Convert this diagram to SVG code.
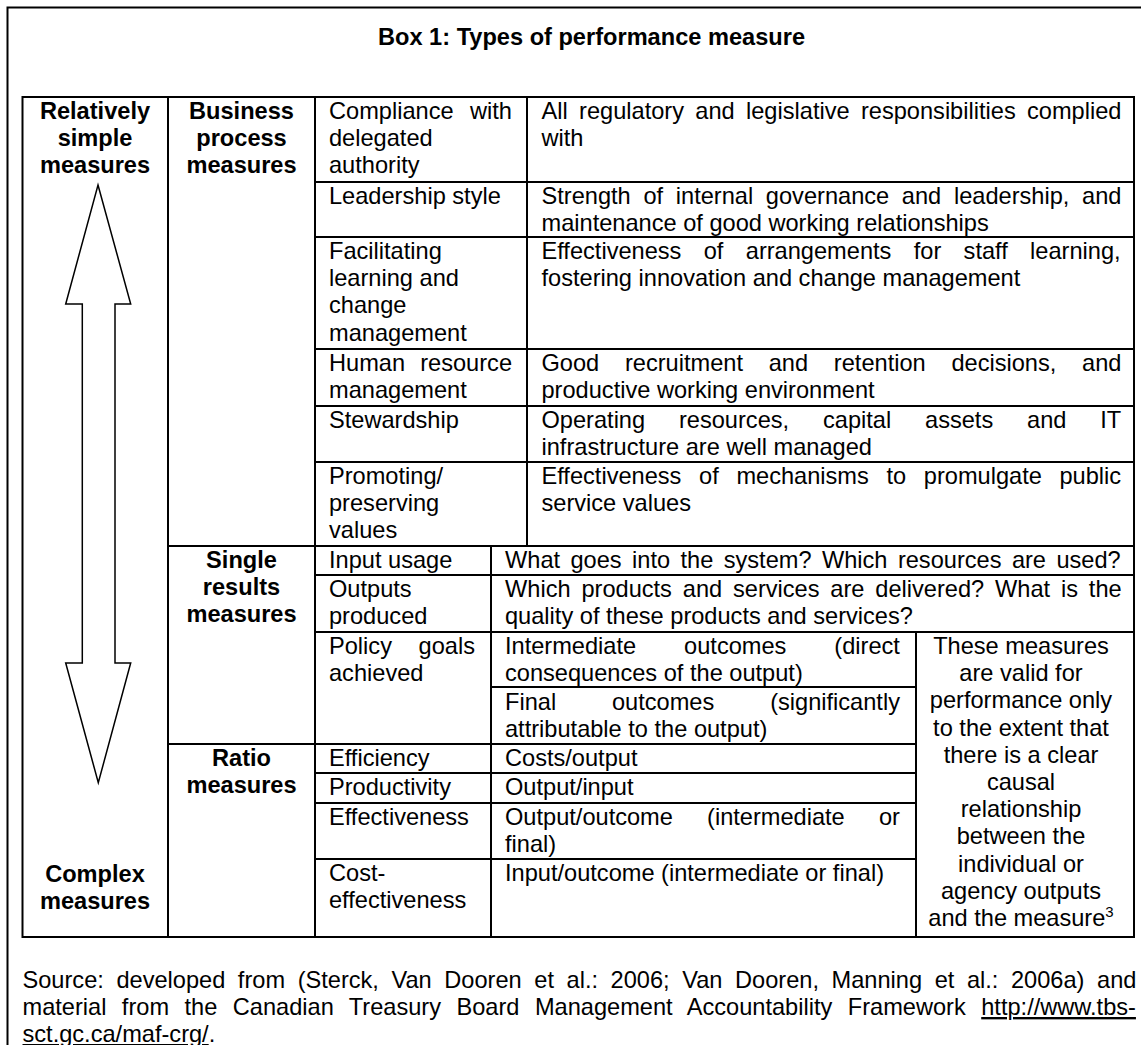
<svg xmlns="http://www.w3.org/2000/svg" width="1141" height="1045" viewBox="0 0 1141 1045">
<style>
.t{font-family:"Liberation Sans",Arial,sans-serif;font-size:23.6px;fill:#000}
.b{font-weight:bold}
.c{text-anchor:middle}
.grid line{stroke:#000;stroke-width:2}
.frame{fill:none;stroke:#000;stroke-width:2}
</style>
<rect width="1141" height="1045" fill="#fff"/>
<g id="frame"><path class="frame" d="M7.5 1046 V7.5 H1142"/></g>
<g id="title"><text class="t b c" x="591.5" y="45">Box 1: Types of performance measure</text></g>

<g id="table-grid" class="grid">
<rect x="22.5" y="97" width="1111.5" height="840" fill="none" stroke="#000" stroke-width="2"/>
<line x1="168" y1="97" x2="168" y2="937"/>
<line x1="315" y1="97" x2="315" y2="937"/>
<line x1="527" y1="97" x2="527" y2="546"/>
<line x1="491" y1="546" x2="491" y2="937"/>
<line x1="916" y1="632" x2="916" y2="937"/>
<line x1="315" y1="182" x2="1134" y2="182"/>
<line x1="315" y1="237" x2="1134" y2="237"/>
<line x1="315" y1="349" x2="1134" y2="349"/>
<line x1="315" y1="406" x2="1134" y2="406"/>
<line x1="315" y1="462" x2="1134" y2="462"/>
<line x1="168" y1="546" x2="1134" y2="546"/>
<line x1="315" y1="575" x2="1134" y2="575"/>
<line x1="315" y1="632" x2="1134" y2="632"/>
<line x1="491" y1="687" x2="916" y2="687"/>
<line x1="168" y1="744" x2="916" y2="744"/>
<line x1="315" y1="773" x2="916" y2="773"/>
<line x1="315" y1="803" x2="916" y2="803"/>
<line x1="315" y1="859" x2="916" y2="859"/>
</g>

<g id="arrow-complexity">
<polygon points="98,185 130.7,304 115,304 115,663 130.7,663 98.3,782.7 65.7,663 82.3,663 82.3,304 65.7,304" fill="none" stroke="#000" stroke-width="1.5" stroke-linejoin="miter"/>
</g>

<g id="node-simple"><text class="t b c" x="95" y="119"><tspan x="95">Relatively</tspan><tspan x="95" dy="27.2">simple</tspan><tspan x="95" dy="27.2">measures</tspan></text></g>
<g id="node-complex"><text class="t b c" x="95" y="882"><tspan x="95">Complex</tspan><tspan x="95" dy="27.2">measures</tspan></text></g>

<g id="node-business"><text class="t b c" x="241.5" y="119"><tspan x="241.5">Business</tspan><tspan x="241.5" dy="27.2">process</tspan><tspan x="241.5" dy="27.2">measures</tspan></text></g>
<g id="node-single"><text class="t b c" x="241.5" y="568"><tspan x="241.5">Single</tspan><tspan x="241.5" dy="27.2">results</tspan><tspan x="241.5" dy="27.2">measures</tspan></text></g>
<g id="node-ratio"><text class="t b c" x="241.5" y="766"><tspan x="241.5">Ratio</tspan><tspan x="241.5" dy="27.2">measures</tspan></text></g>

<g id="row-compliance">
<text class="t" x="329" y="119"><tspan x="329" style="word-spacing:9.9px">Compliance with</tspan><tspan x="329" dy="27.2">delegated</tspan><tspan x="329" dy="27.2">authority</tspan></text>
<text class="t" x="541.5" y="119"><tspan x="541.5" style="word-spacing:4.78px">All regulatory and legislative responsibilities complied</tspan><tspan x="541.5" dy="27.2">with</tspan></text>
</g>
<g id="row-leadership">
<text class="t" x="329" y="204">Leadership style</text>
<text class="t" x="541.5" y="204"><tspan x="541.5" style="word-spacing:6.15px">Strength of internal governance and leadership, and</tspan><tspan x="541.5" dy="27.2">maintenance of good working relationships</tspan></text>
</g>
<g id="row-learning">
<text class="t" x="329" y="259"><tspan x="329">Facilitating</tspan><tspan x="329" dy="27.2">learning and</tspan><tspan x="329" dy="27.2">change</tspan><tspan x="329" dy="27.2">management</tspan></text>
<text class="t" x="541.5" y="259"><tspan x="541.5" style="word-spacing:15.8px">Effectiveness of arrangements for staff learning,</tspan><tspan x="541.5" dy="27.2">fostering innovation and change management</tspan></text>
</g>
<g id="row-hr">
<text class="t" x="329" y="371"><tspan x="329" style="word-spacing:8.6px">Human resource</tspan><tspan x="329" dy="27.2">management</tspan></text>
<text class="t" x="541.5" y="371"><tspan x="541.5" style="word-spacing:19.2px">Good recruitment and retention decisions, and</tspan><tspan x="541.5" dy="27.2">productive working environment</tspan></text>
</g>
<g id="row-stewardship">
<text class="t" x="329" y="428">Stewardship</text>
<text class="t" x="541.5" y="428"><tspan x="541.5" style="word-spacing:27.3px">Operating resources, capital assets and IT</tspan><tspan x="541.5" dy="27.2">infrastructure are well managed</tspan></text>
</g>
<g id="row-values">
<text class="t" x="329" y="484"><tspan x="329">Promoting/</tspan><tspan x="329" dy="27.2">preserving</tspan><tspan x="329" dy="27.2">values</tspan></text>
<text class="t" x="541.5" y="484"><tspan x="541.5" style="word-spacing:11.1px">Effectiveness of mechanisms to promulgate public</tspan><tspan x="541.5" dy="27.2">service values</tspan></text>
</g>

<g id="row-input">
<text class="t" x="329" y="568">Input usage</text>
<text class="t" x="505" y="568" style="word-spacing:3.85px">What goes into the system? Which resources are used?</text>
</g>
<g id="row-outputs">
<text class="t" x="329" y="597"><tspan x="329">Outputs</tspan><tspan x="329" dy="27.2">produced</tspan></text>
<text class="t" x="505" y="597"><tspan x="505" style="word-spacing:4.3px">Which products and services are delivered? What is the</tspan><tspan x="505" dy="27.2">quality of these products and services?</tspan></text>
</g>
<g id="row-policy">
<text class="t" x="329" y="654"><tspan x="329" style="word-spacing:20.1px">Policy goals</tspan><tspan x="329" dy="27.2">achieved</tspan></text>
<text class="t" x="505" y="654"><tspan x="505" style="word-spacing:41.4px">Intermediate outcomes (direct</tspan><tspan x="505" dy="27.2">consequences of the output)</tspan></text>
<text class="t" x="505" y="710"><tspan x="505" style="word-spacing:49.3px">Final outcomes (significantly</tspan><tspan x="505" dy="27.2">attributable to the output)</tspan></text>
</g>
<g id="node-validity">
<text class="t c" x="1021" y="654"><tspan x="1021">These measures</tspan><tspan x="1021" dy="27.2">are valid for</tspan><tspan x="1021" dy="27.2">performance only</tspan><tspan x="1021" dy="27.2">to the extent that</tspan><tspan x="1021" dy="27.2">there is a clear</tspan><tspan x="1021" dy="27.2">causal</tspan><tspan x="1021" dy="27.2">relationship</tspan><tspan x="1021" dy="27.2">between the</tspan><tspan x="1021" dy="27.2">individual or</tspan><tspan x="1021" dy="27.2">agency outputs</tspan><tspan x="1021" dy="27.2">and the measure<tspan font-size="15" dy="-9">3</tspan></tspan></text>
</g>

<g id="row-efficiency">
<text class="t" x="329" y="766">Efficiency</text>
<text class="t" x="505" y="766">Costs/output</text>
</g>
<g id="row-productivity">
<text class="t" x="329" y="795">Productivity</text>
<text class="t" x="505" y="795">Output/input</text>
</g>
<g id="row-effectiveness">
<text class="t" x="329" y="825">Effectiveness</text>
<text class="t" x="505" y="825"><tspan x="505" style="word-spacing:27.6px">Output/outcome (intermediate or</tspan><tspan x="505" dy="27.2">final)</tspan></text>
</g>
<g id="row-cost-effectiveness">
<text class="t" x="329" y="881"><tspan x="329">Cost-</tspan><tspan x="329" dy="27.2">effectiveness</tspan></text>
<text class="t" x="505" y="881">Input/outcome (intermediate or final)</text>
</g>

<g id="source">
<text class="t" x="22.5" y="988" style="word-spacing:6.03px">Source: developed from (Sterck, Van Dooren et al.: 2006; Van Dooren, Manning et al.: 2006a) and</text>
<text class="t" x="22.5" y="1015" style="word-spacing:8.9px">material from the Canadian Treasury Board Management Accountability Framework <tspan text-decoration="underline">http://www.tbs-</tspan></text>
<text class="t" x="22.5" y="1042"><tspan text-decoration="underline">sct.gc.ca/maf-crg/</tspan>.</text>
</g>
</svg>
